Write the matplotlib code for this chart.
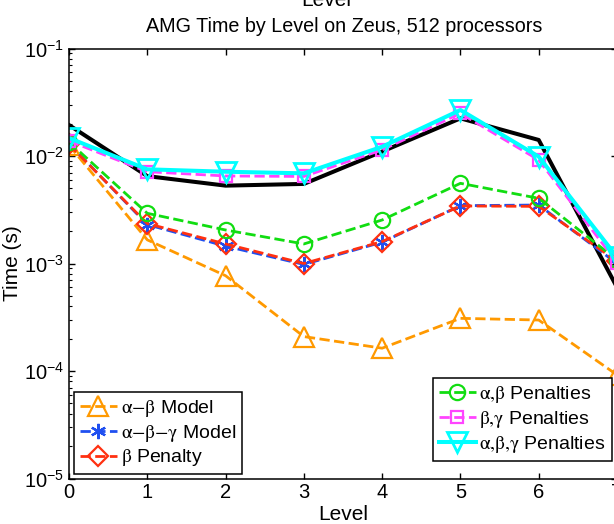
import matplotlib
matplotlib.use('Agg')
import matplotlib.pyplot as plt

plt.rcParams['font.family'] = ['Liberation Sans', 'DejaVu Sans']
plt.rcParams['mathtext.fontset'] = 'stix'

# levels and times (s)
levels = [0, 1, 2, 3, 4, 5, 6, 7]
measured = [0.0194, 0.0065, 0.0053, 0.0055, 0.0110, 0.0224, 0.0141, 0.0006]
ab_model = [0.0126, 0.00166, 0.00077, 0.000209, 0.000163, 0.000309, 0.000298, 0.000092]
abg_model = [0.0130, 0.0023, 0.00145, 0.00098, 0.00158, 0.00345, 0.0035, 0.00100]
b_penalty = [0.0128, 0.00235, 0.00152, 0.00100, 0.00160, 0.00343, 0.0034, 0.00105]
ab_pen = [0.0135, 0.00293, 0.00205, 0.00152, 0.00254, 0.00557, 0.00404, 0.00108]
bg_pen = [0.0138, 0.00714, 0.00652, 0.00645, 0.0114, 0.0249, 0.00918, 0.00102]
abg_pen = [0.0147, 0.00752, 0.00714, 0.0069, 0.0122, 0.0268, 0.00987, 0.00115]

fig = plt.figure(figsize=(6.14, 5.24), dpi=100)
ax = fig.add_axes([69 / 614, 1 - 478.5 / 524, 548 / 614, 430 / 524])

ax.plot(levels, measured, '-', color='black', lw=2.9)
l1, = ax.plot(levels, ab_model, '--^', color='#FF9900', lw=2.0, ms=14, mfc='none', mew=1.6,
              label=r'$\mathrm{\alpha{-}\beta}$ Model')
l2, = ax.plot(levels, abg_model, '--', marker=(6, 2, 0), color='#1F4FF0', lw=2.0, ms=11, mew=1.6,
              label=r'$\mathrm{\alpha{-}\beta{-}\gamma}$ Model')
l3, = ax.plot(levels, b_penalty, '--D', color='#FF3010', lw=2.0, ms=10, mfc='none', mew=1.6,
              label=r'$\mathrm{\beta}$ Penalty')
l4, = ax.plot(levels, ab_pen, '--o', color='#11DD11', lw=2.0, ms=11, mfc='none', mew=1.6,
              label=r'$\mathrm{\alpha{,}\beta}$ Penalties')
l5, = ax.plot(levels, bg_pen, '--s', color='#FF44FF', lw=2.0, ms=9, mfc='none', mew=1.6,
              label=r'$\mathrm{\beta{,}\gamma}$ Penalties')
l6, = ax.plot(levels, abg_pen, '-v', color='#00FFFF', lw=2.9, ms=15, mfc='none', mew=2.0,
              label=r'$\mathrm{\alpha{,}\beta{,}\gamma}$ Penalties')

ax.set_yscale('log')
ax.set_ylim(1e-5, 1e-1)
ax.set_xlim(0, 7)
ax.set_xticks(levels)
ax.tick_params(which='both', direction='in', top=True, right=True, labelsize=14.5)
ax.tick_params(which='major', length=4.5, width=1)
ax.tick_params(which='minor', length=2.4, width=0.8)
for s in ax.spines.values():
    s.set_linewidth(1.1)

leg_kw = dict(fontsize=14, frameon=True, fancybox=False, edgecolor='black', framealpha=1,
              borderaxespad=0, handlelength=1.9, handletextpad=0.2, labelspacing=0.2,
              borderpad=0.3, numpoints=1)
leg1 = ax.legend(handles=[l1, l2, l3], loc='lower left', bbox_to_anchor=(0.009, 0.0098), **leg_kw)
leg1.get_frame().set_linewidth(1.1)
ax.add_artist(leg1)
leg2 = ax.legend(handles=[l4, l5, l6], loc='lower right', bbox_to_anchor=(0.990, 0.0414), **leg_kw)
leg2.get_frame().set_linewidth(1.1)

fig.text(344 / 614, 1 - 27 / 524, 'AMG Time by Level on Zeus, 512 processors',
         ha='center', va='center', fontsize=14.2)
fig.text(343 / 614, 1 - 515 / 524, 'Level', ha='center', va='center', fontsize=15)
fig.text(13 / 614, 1 - 263.5 / 524, 'Time (s)', ha='center', va='center',
         rotation=90, fontsize=15)
# xlabel of the panel above, cut off at the top edge
fig.text(326 / 614, 1 - 5.5 / 524, 'Level', ha='center', va='baseline', fontsize=15)

fig.savefig('out.png', dpi=100)
